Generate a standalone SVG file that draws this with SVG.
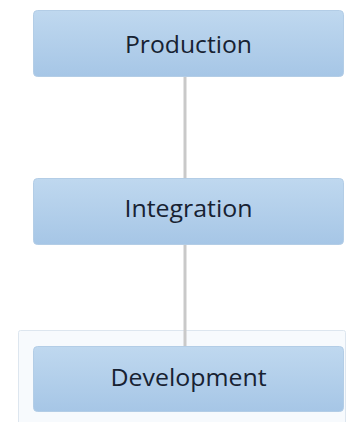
<svg xmlns="http://www.w3.org/2000/svg" width="349" height="422" viewBox="0 0 349 422">
<defs>
<linearGradient id="g" x1="0" y1="0" x2="0" y2="1">
<stop offset="0" stop-color="#bfd8ef"/>
<stop offset="1" stop-color="#a6c6e6"/>
</linearGradient>
<style>
.node rect{fill:url(#g);stroke:#b3cde6;stroke-width:1}
.node text{font-family:"Open Sans","Noto Sans",sans-serif;font-size:23px;fill:#172232;text-anchor:middle}
.conn line{stroke:#c9c9c9;stroke-width:3}
</style>
</defs>
<rect width="349" height="422" fill="#ffffff"/>
<g id="frame">
<rect x="18.5" y="330.5" width="327" height="100" rx="2" fill="#f7fafd" stroke="#dde6ef" stroke-width="1"/>
</g>
<g class="conn">
<line x1="185" y1="77" x2="185" y2="178"/>
<line x1="185" y1="245" x2="185" y2="346"/>
</g>
<g id="production" class="node">
<rect x="33.5" y="10.5" width="310" height="66" rx="4"/>
<text x="188.5" y="53" textLength="127" lengthAdjust="spacingAndGlyphs">Production</text>
</g>
<g id="integration" class="node">
<rect x="33.5" y="178.5" width="310" height="66" rx="4"/>
<text x="188.5" y="217" textLength="128" lengthAdjust="spacingAndGlyphs">Integration</text>
</g>
<g id="development" class="node">
<rect x="33.5" y="346.5" width="310" height="65" rx="4"/>
<text x="188.5" y="386" textLength="156" lengthAdjust="spacingAndGlyphs">Development</text>
</g>
</svg>
